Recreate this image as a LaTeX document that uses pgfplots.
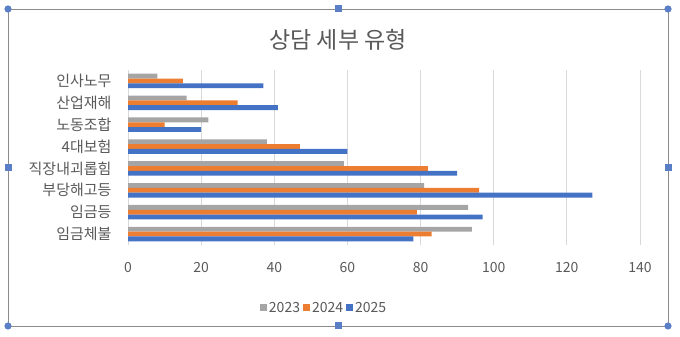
\documentclass[border=0pt]{standalone}
\usepackage{fontspec}
\setmainfont{Noto Sans CJK KR}
\usepackage{pgfplots}
\pgfplotsset{compat=1.18}
\definecolor{g23}{HTML}{A5A5A5}
\definecolor{o24}{HTML}{ED7D31}
\definecolor{b25}{HTML}{4472C4}
\definecolor{txt}{HTML}{595959}
\definecolor{gridc}{HTML}{D9D9D9}
\definecolor{handle}{HTML}{5B7FC7}
\begin{document}
\begin{tikzpicture}
\useasboundingbox (0pt,0pt) rectangle (680pt,337pt);
\draw[color=gray!90, line width=0.8pt] (8pt,11pt) rectangle (668pt,328pt);
\foreach \p in {(8pt,11pt),(668pt,11pt),(8pt,328pt),(668pt,328pt)} \fill[handle] \p circle (3.6pt);
\foreach \p in {(338pt,11pt),(338pt,328pt),(8pt,169.5pt),(668pt,169.5pt)} \fill[handle] \p ++(-3.5pt,-3.5pt) rectangle ++(7pt,7pt);
\node[text=txt, font=\fontsize{23}{23}\selectfont] at (338pt,297pt) {상담 세부 유형};
\begin{axis}[
  at={(128pt,92pt)}, anchor=south west, scale only axis,
  width=512pt, height=175pt,
  xbar, xmin=0, xmax=140, ymin=-0.5, ymax=7.5,
  bar width=4.8pt,
  xtick={0,20,...,140}, ytick={0,...,7},
  yticklabels={임금체불,임금등,부당해고등,직장내괴롭힘,4대보험,노동조합,산업재해,인사노무},
  xmajorgrids, major grid style={draw=gridc, line width=0.8pt},
  axis line style={draw=none},
  major tick length=0pt,
  xticklabel style={font=\fontsize{14}{14}\selectfont, text=txt},
  yticklabel style={font=\fontsize{15}{15}\selectfont, text=txt},
  /pgf/number format/assume math mode=true,
  xticklabel shift=14pt,
  yticklabel shift=13pt,
  legend style={at={(axis description cs:0.383,-0.36)}, anchor=center, draw=none,
    font=\fontsize{14}{14}\selectfont, text=txt,
    /tikz/every even column/.append style={column sep=1pt}},
  legend columns=3,
  legend image code/.code={\fill[#1] (0pt,-3.5pt) rectangle (7pt,3.5pt);},
]
\addplot[fill=g23, draw=none, bar shift=4.8pt] coordinates {(94,0) (93,1) (81,2) (59,3) (38,4) (22,5) (16,6) (8,7)};
\addplot[fill=o24, draw=none, bar shift=0pt] coordinates {(83,0) (79,1) (96,2) (82,3) (47,4) (10,5) (30,6) (15,7)};
\addplot[fill=b25, draw=none, bar shift=-4.8pt] coordinates {(78,0) (97,1) (127,2) (90,3) (60,4) (20,5) (41,6) (37,7)};
\legend{2023,2024,2025}
\end{axis}
\end{tikzpicture}
\end{document}
